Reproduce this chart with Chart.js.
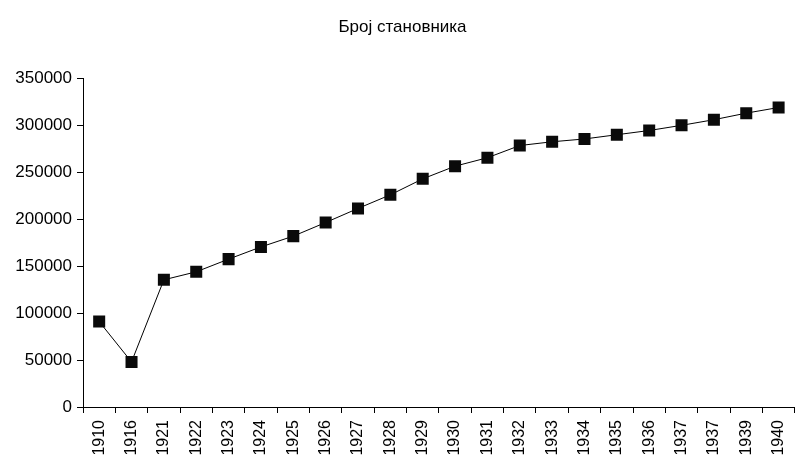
<!DOCTYPE html>
<html>
<head>
<meta charset="utf-8">
<script src="https://cdn.jsdelivr.net/npm/chart.js@4.4.1/dist/chart.umd.min.js"></script>
<style>
  html, body { margin: 0; padding: 0; background: #fff; overflow: hidden; }
  #wrap { width: 800px; height: 457px; overflow: hidden; }
</style>
</head>
<body>
<div id="wrap"><canvas id="chart" width="805" height="457"></canvas></div>
<script>
// population by year
const years = ['1910', '1916', '1921', '1922', '1923', '1924', '1925', '1926', '1927', '1928', '1929',
  '1930', '1931', '1932', '1933', '1934', '1935', '1936', '1937', '1937', '1939', '1940'];
const population = [91000, 48000, 135500, 144000, 157500, 170500, 182000, 196500, 211500, 226000, 243000,
  256500, 265500, 278500, 282500, 285500, 290000, 294500, 300000, 306000, 313000, 319000];
const yTicks = [0, 50000, 100000, 150000, 200000, 250000, 300000, 350000];

const font = { family: 'Liberation Sans, Arial, sans-serif', size: 16 };

new Chart(document.getElementById('chart'), {
  type: 'line',
  data: {
    labels: years,
    datasets: [{
      data: population,
      borderColor: '#000',
      borderWidth: 1,
      backgroundColor: '#0a0a0a',
      pointStyle: 'rect',
      pointRadius: 8.5,
      pointBorderWidth: 0,
      tension: 0
    }]
  },
  options: {
    responsive: false,
    animation: false,
    events: [],
    layout: { padding: 0 },
    plugins: {
      legend: { display: false },
      tooltip: { enabled: false },
      title: {
        display: true,
        text: 'Број становника',
        color: '#000',
        font: { family: font.family, size: 17, weight: 'normal' },
        padding: { top: 17, bottom: 41 }
      }
    },
    scales: {
      x: {
        offset: true,
        afterFit: s => { s.height = 50; },
        grid: { offset: true, drawOnChartArea: false, color: '#000', tickLength: 6 },
        border: { color: '#000', width: 1 },
        ticks: { color: '#000', font, minRotation: 90, maxRotation: 90, autoSkip: false, padding: 7 }
      },
      y: {
        min: 0,
        max: 350000,
        afterFit: s => { s.width = 83; },
        afterBuildTicks: s => { s.ticks = yTicks.map(v => ({ value: v })); },
        grid: { drawOnChartArea: false, color: '#000', tickLength: 6 },
        border: { color: '#000', width: 1 },
        ticks: { color: '#000', font: { family: font.family, size: 17 }, padding: 5, callback: v => String(v) }
      }
    }
  }
});
</script>
</body>
</html>
